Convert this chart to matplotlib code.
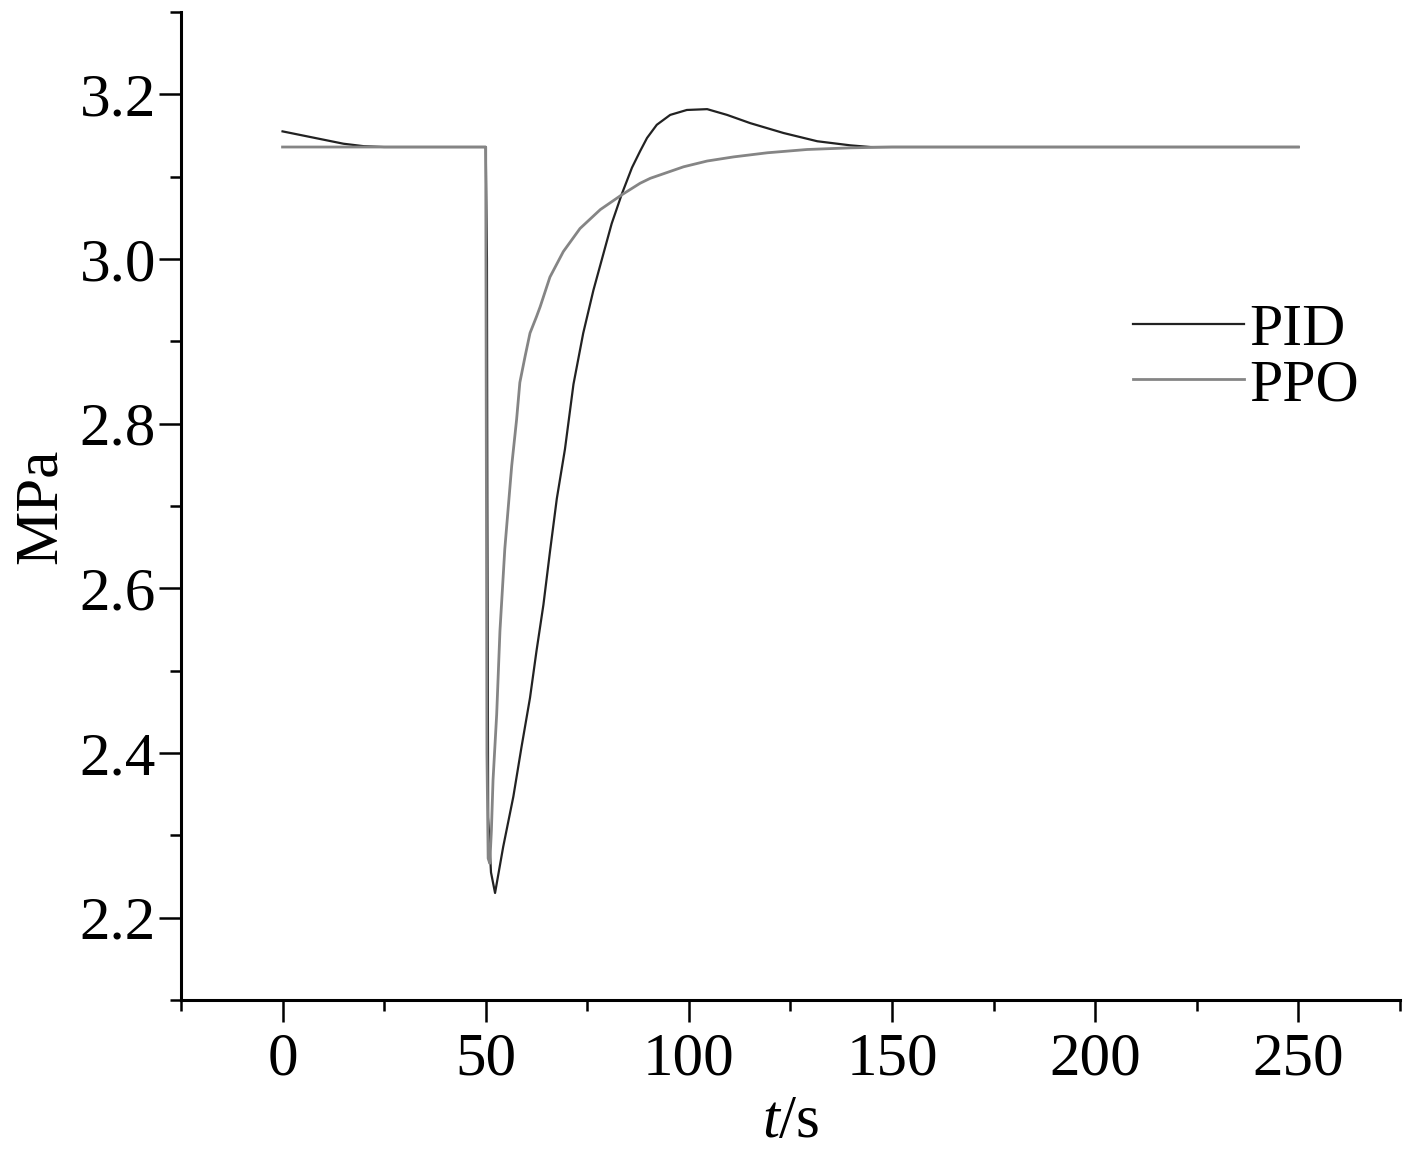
import numpy as np
import matplotlib.pyplot as plt
from matplotlib.ticker import MultipleLocator

# Data (time in s, pressure in MPa).

t_pid = [0, 5, 10, 15, 20, 25, 50, 50.3, 50.4, 50.6, 51.3, 52.3, 54.3, 56.8, 58.8, 60.9,
         62.5, 64.2, 65.8, 67.5, 69.5, 71.6, 74.0, 76.5, 79.0, 81.0, 83.5, 86.0, 88.0,
         89.7, 92.1, 95.4, 99.5, 104.5, 109.4, 115.1, 123.3, 131.6, 139.8, 144.7, 160,
         200, 250]
p_pid = [3.155, 3.150, 3.145, 3.140, 3.137, 3.136, 3.136, 3.000, 2.705, 2.322, 2.255, 2.230,
         2.286, 2.347, 2.407, 2.467, 2.524, 2.580, 2.644, 2.709, 2.769, 2.848, 2.910,
         2.962, 3.007, 3.043, 3.079, 3.111, 3.131, 3.147, 3.163, 3.175, 3.181, 3.182,
         3.175, 3.165, 3.153, 3.143, 3.138, 3.136, 3.136, 3.136, 3.136]

t_ppo = [0, 50, 50.3, 50.6, 51.0, 51.4, 51.8, 52.7, 53.5, 54.7, 56.4, 57.6, 58.4, 59.7,
         60.9, 62.5, 63.4, 65.8, 69.1, 73.2, 78.2, 83.5, 88.0, 90.5, 94.6, 98.7, 104.5,
         111.0, 119.3, 129.1, 139.8, 150, 200, 250]
p_ppo = [3.136, 3.136, 2.400, 2.272, 2.266, 2.306, 2.367, 2.447, 2.548, 2.648, 2.749,
         2.805, 2.850, 2.882, 2.910, 2.930, 2.942, 2.978, 3.009, 3.037, 3.060, 3.078,
         3.092, 3.098, 3.105, 3.112, 3.119, 3.124, 3.129, 3.133, 3.135, 3.136, 3.136, 3.136]

x_ticks = [0, 50, 100, 150, 200, 250]
y_ticks = [2.2, 2.4, 2.6, 2.8, 3.0, 3.2]

plt.rcParams['font.family'] = ['Liberation Serif', 'DejaVu Serif']
plt.rcParams['mathtext.fontset'] = 'custom'
plt.rcParams['mathtext.rm'] = 'Liberation Serif'
plt.rcParams['mathtext.it'] = 'Liberation Serif:italic'

fig = plt.figure(figsize=(14.17, 11.53), dpi=100)
ax = fig.add_axes([0.1277, 0.1327, 0.8603, 0.8569])

ax.plot(t_pid, p_pid, color='#222222', linewidth=1.6, label='PID')
ax.plot(t_ppo, p_ppo, color='#858585', linewidth=2.0, label='PPO')

ax.set_xlim(-25, 275)
ax.set_ylim(2.1, 3.3)

ax.set_xticks(x_ticks)
ax.set_yticks(y_ticks)
ax.set_yticklabels([f"{v:.1f}" for v in y_ticks])
ax.xaxis.set_minor_locator(MultipleLocator(25))
ax.yaxis.set_minor_locator(MultipleLocator(0.1))

# Only left and bottom axes.
ax.spines['top'].set_visible(False)
ax.spines['right'].set_visible(False)
ax.spines['left'].set_linewidth(2.2)
ax.spines['bottom'].set_linewidth(2.2)

ax.tick_params(which='major', direction='out', length=16, width=1.8, labelsize=44)
ax.tick_params(which='minor', direction='out', length=8, width=1.8)
ax.tick_params(axis='x', which='major', pad=7)
ax.tick_params(axis='y', which='major', pad=2)

ax.set_xlabel(r'$t$/s', fontsize=44, labelpad=5)
ax.set_ylabel('MPa', fontsize=44, labelpad=8)

ax.legend(loc='upper left', bbox_to_anchor=(0.781, 0.705), frameon=False, fontsize=43,
          handlelength=1.85, handletextpad=0.1, labelspacing=0.0, borderpad=0,
          borderaxespad=0)

plt.savefig('out.png', dpi=100)
plt.close()
